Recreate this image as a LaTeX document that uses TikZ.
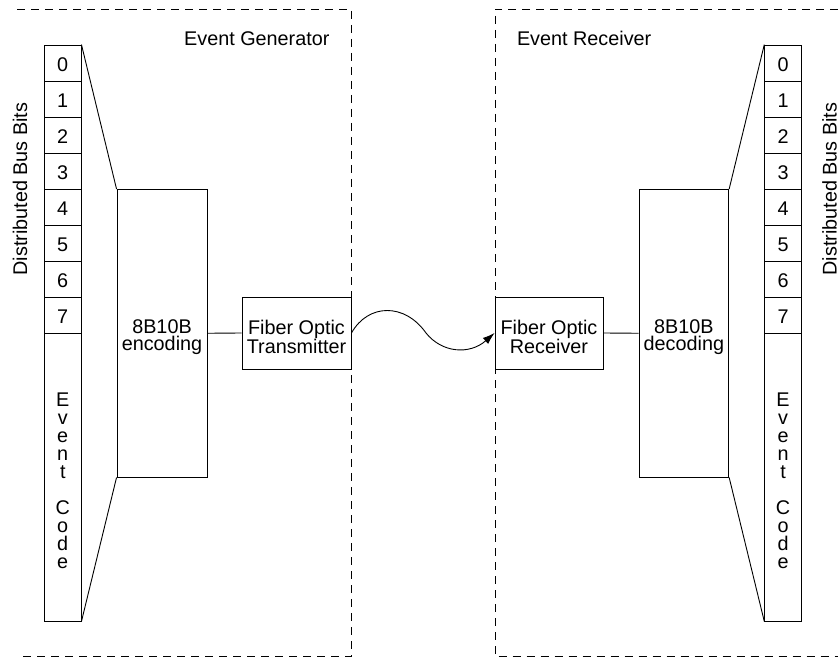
\documentclass[tikz,border=0pt]{standalone}
\usepackage{fontspec}
\setmainfont{Liberation Sans}
\usetikzlibrary{arrows.meta}
\begin{document}
\begin{tikzpicture}[x=1pt,y=-1pt,
  every node/.style={font=\fontsize{19.8}{17.6}\selectfont},
  ln/.style={line width=0.9pt},
  blk/.style={draw, line width=0.9pt, inner sep=0pt},
  txt/.style={align=center, inner sep=0pt, yshift=-4pt},
  stack/.style={align=center, inner sep=0pt, yshift=-4pt, font=\fontsize{19.8}{18}\selectfont},
  cell/.style={blk, minimum width=36.5pt, minimum height=36pt},
  border/.style={line width=0.9pt, dash pattern=on 8pt off 6pt}]
\useasboundingbox (0,0) rectangle (838,658);
% borders
\draw[border] (17,9) -- (351,9) -- (351,656.5) -- (17,656.5);
\draw[border] (838,9) -- (495,9) -- (495,656.5) -- (838,656.5);
\node[anchor=base east] (gen) at (333,45.5) {Event Generator};
\node[anchor=base west] (rec) at (513.5,45.5) {Event Receiver};
% buses
\foreach \i in {0,...,7} {
  \node[cell] (L\i) at (62.75,63+36*\i) {};
  \node[txt, yshift=2pt] (Lt\i) at (L\i.center) {\i};
  \node[cell] (R\i) at (783,63+36*\i) {};
  \node[txt, yshift=2pt] (Rt\i) at (R\i.center) {\i};
}
\node[cell, minimum height=288pt] (LE) at (62.75,477) {};
\node[stack] (LEt) at (LE.center) {E\\v\\e\\n\\t\\\mbox{}\\C\\o\\d\\e};
\node[cell, minimum height=288pt] (RE) at (783,477) {};
\node[stack] (REt) at (RE.center) {E\\v\\e\\n\\t\\\mbox{}\\C\\o\\d\\e};
\node[rotate=90] (ldb) at (20,189) {Distributed Bus Bits};
\node[rotate=90] (rdb) at (829.5,189) {Distributed Bus Bits};
% blocks
\node[blk, minimum width=90pt, minimum height=287.5pt] (enc) at (162,333.25) {};
\node[txt] (enct) at (enc.center) {8B10B\\encoding};
\node[blk, minimum width=109pt, minimum height=72pt] (tx) at (296.5,333) {};
\node[txt] (txt) at (tx.center) {Fiber Optic\\Transmitter};
\node[blk, minimum width=108pt, minimum height=72pt] (rx) at (549,333) {};
\node[txt] (rxt) at (rx.center) {Fiber Optic\\Receiver};
\node[blk, minimum width=89.7pt, minimum height=287.5pt] (dec) at (683.85,333.25) {};
\node[txt] (dect) at (dec.center) {8B10B\\decoding};
% connectors
\draw[ln] (L0.north east) -- (enc.north west);
\draw[ln] (LE.south east) -- (enc.south west);
\draw[ln] (R0.north west) -- (dec.north east);
\draw[ln] (RE.south west) -- (dec.south east);
\draw[ln] (enc.east) -- (tx.west);
\draw[ln] (rx.east) -- (dec.west);
\coordinate (wmid) at (426,333);
\draw[ln, -{Latex[length=12pt,width=8pt]}] (tx.east) .. controls +(17,-30) and +(-21,-30) .. (wmid)
  .. controls +(16,20) and +(-25,22) .. (rx.west);
\end{tikzpicture}
\end{document}
